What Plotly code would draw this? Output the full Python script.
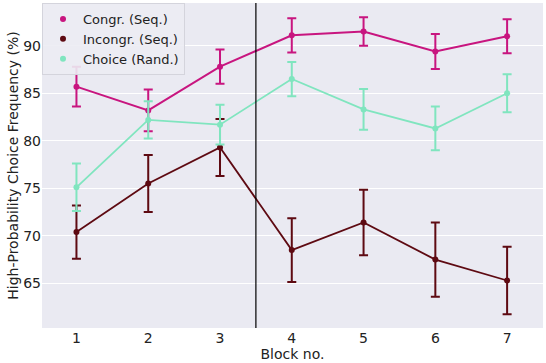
import plotly.graph_objects as go

blocks = [1, 2, 3, 4, 5, 6, 7]
congr = [85.7, 83.2, 87.8, 91.1, 91.5, 89.4, 91.0]
congr_err = [2.1, 2.2, 1.8, 1.8, 1.5, 1.85, 1.8]
incongr = [70.4, 75.5, 79.3, 68.5, 71.4, 67.5, 65.3]
incongr_err = [2.8, 3.0, 3.0, 3.35, 3.45, 3.9, 3.55]
choice = [75.1, 82.2, 81.7, 86.5, 83.3, 81.3, 85.0]
choice_err = [2.5, 1.95, 2.1, 1.8, 2.15, 2.3, 2.0]

series = [
    ("Congr. (Seq.)", congr, congr_err, "#c8157f", 2.0),
    ("Incongr. (Seq.)", incongr, incongr_err, "#5e0a12", 1.8),
    ("Choice (Rand.)", choice, choice_err, "#80e5bf", 1.8),
]

fig = go.Figure()
for name, vals, errs, col, lw in series:
    fig.add_trace(go.Scatter(
        x=blocks, y=vals, name=name, mode="lines+markers",
        line=dict(color=col, width=lw),
        marker=dict(color=col, size=6),
        error_y=dict(type="data", array=errs, visible=True, color=col,
                     thickness=2, width=4.5),
        showlegend=False,
    ))
# legend entries: markers only, as in the reference
for name, vals, errs, col, lw in series:
    fig.add_trace(go.Scatter(
        x=[None], y=[None], name=name, mode="markers",
        marker=dict(color=col, size=6), showlegend=True,
    ))

fig.add_vline(x=3.5, line=dict(color="black", width=1.2))

font = "DejaVu Sans, Arial, sans-serif"
fig.update_layout(
    width=546, height=363,
    margin=dict(l=42, r=3, t=3, b=35),
    paper_bgcolor="white",
    plot_bgcolor="#EAEAF2",
    font=dict(family=font, size=14, color="#222222"),
    showlegend=True,
    legend=dict(
        x=0.0, y=1.0, xanchor="left", yanchor="top",
        bgcolor="rgba(236,236,243,0.9)",
        bordercolor="#d4d4dc", borderwidth=1,
        font=dict(size=13, family=font, color="#222222"),
        tracegroupgap=0,
    ),
    xaxis=dict(
        range=[0.52, 7.5], tickvals=blocks, ticktext=[str(b) for b in blocks],
        showgrid=False, zeroline=False, showline=False, automargin=False,
        title=dict(text="Block no.", standoff=0, font=dict(size=14)),
        tickfont=dict(size=14), ticks="",
    ),
    yaxis=dict(
        range=[60.3, 94.5], tickvals=[65, 70, 75, 80, 85, 90],
        showgrid=True, gridcolor="white", gridwidth=1,
        zeroline=False, showline=False, automargin=False,
        title=dict(text="High-Probability Choice Frequency (%)", standoff=1, font=dict(size=14)),
        tickfont=dict(size=14), ticks="",
    ),
)

fig.write_html("out.html", config={"displayModeBar": False},
               post_script="document.body.style.margin='0';")
